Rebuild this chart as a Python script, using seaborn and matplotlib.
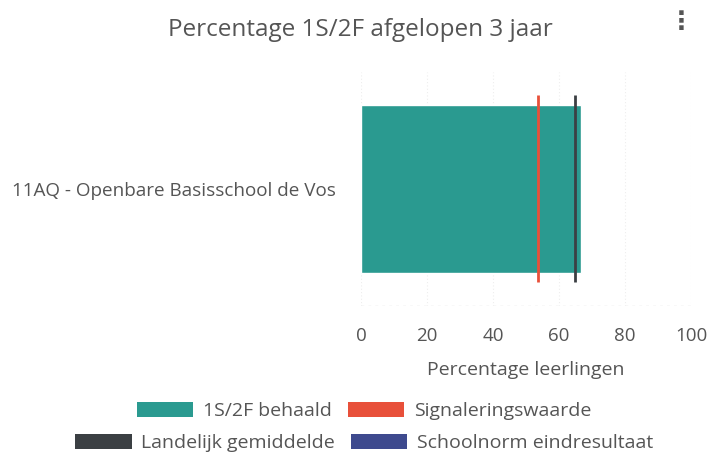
import matplotlib
matplotlib.use("Agg")
import matplotlib.pyplot as plt
import seaborn as sns
import pandas as pd
from matplotlib.patches import Patch

categories = ["11AQ - Openbare Basisschool de Vos"]
behaald = [66.5]
signalering = [53.5]
landelijk = [64.8]
legend_labels = ["1S/2F behaald", "Signaleringswaarde", "Landelijk gemiddelde", "Schoolnorm eindresultaat"]
xticks = [0, 20, 40, 60, 80, 100]

teal = "#2a9a90"
red = "#e8503a"
dark = "#3b3f43"
blue = "#3e4a8e"

sns.set_theme(style="white")
plt.rcParams['font.family'] = ['Open Sans', 'DejaVu Sans']

fig = plt.figure(figsize=(7.11, 4.62), dpi=100)
ax = fig.add_axes([0.508, 0.338, 0.464, 0.506])

df = pd.DataFrame({"school": categories, "value": behaald})
sns.barplot(data=df, y="school", x="value", orient="h", color=teal, width=0.72,
            saturation=1, ax=ax)

for i, (s, l) in enumerate(zip(signalering, landelijk)):
    ax.vlines(s, i - 0.4, i + 0.4, color=red, linewidth=2.0, zorder=3)
    ax.vlines(l, i - 0.4, i + 0.4, color=dark, linewidth=2.0, zorder=3)

ax.set_xlim(0, 100)
ax.set_ylim(0.5, -0.5)
ax.set_xticks(xticks)
ax.set_xticklabels([str(t) for t in xticks], fontsize=13.5, color="#555555")
ax.tick_params(axis="y", labelsize=13.6, labelcolor="#555555", pad=18, length=0)
ax.tick_params(axis="x", pad=15, length=0)
ax.set_ylabel("")
ax.set_xlabel("Percentage leerlingen", fontsize=14, color="#555555", labelpad=12)
for sp in ax.spines.values():
    sp.set_visible(False)
ax.grid(axis="x", color="#eeeeee", linestyle=(0, (1, 2)), linewidth=0.8)
ax.set_axisbelow(True)
ax.axhline(0.5, color="#dddddd", linestyle=(0, (2, 3)), linewidth=1)

fig.text(0.507, 0.935, "Percentage 1S/2F afgelopen 3 jaar", ha="center", va="center",
         fontsize=17.5, color="#555555")
fig.text(0.958, 0.952, "⋮", ha="center", va="center", fontsize=18, color="#555555",
         family=["DejaVu Sans"], fontweight="bold")

cols = [teal, red, dark, blue]
handles = [Patch(facecolor=c, edgecolor="none") for c in cols]
kw = dict(ncol=2, loc="center", frameon=False, fontsize=14, handlelength=2.9,
          handleheight=0.78, columnspacing=0.8, handletextpad=0.5, labelcolor="#555555",
          borderpad=0, borderaxespad=0)
fig.legend(handles[:2], legend_labels[:2], bbox_to_anchor=(0.512, 0.11), **kw)
fig.legend(handles[2:], legend_labels[2:], bbox_to_anchor=(0.512, 0.041), **kw)

fig.savefig("out.png", dpi=100)
